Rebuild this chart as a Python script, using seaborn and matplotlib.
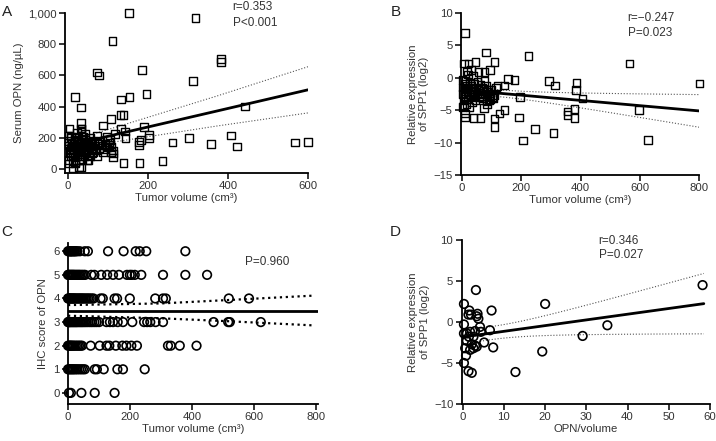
import numpy as np
import pandas as pd
import matplotlib
matplotlib.use('Agg')
import matplotlib.pyplot as plt
import seaborn as sns
from matplotlib.ticker import StrMethodFormatter

# Panel A: tumor volume vs serum OPN
a_vol = [152, 319, 111, 72, 78, 185, 383, 383, 312, 17, 33, 154, 196, 132, 131, 139, 108, 32, 32, 4,
         88, 132, 190, 142, 442, 407, 422, 302, 358, 261, 567, 600, 179, 236, 202, 202, 178, 183, 178, 139,
         112, 112, 112, 27, 32, 104, 96, 72, 97, 105, 117, 144, 109, 107, 72, 88, 63, 51, 18, 12,
         34, 34, 2, 3, 4, 5, 6, 2, 8, 9, 10, 11, 12, 14, 15, 16, 17, 18, 20, 21,
         22, 24, 25, 26, 27, 28, 30, 31, 33, 34, 35, 37, 38, 40, 41, 42, 44, 45, 47, 48,
         50, 52, 54, 55, 57, 58, 60, 62, 65, 67, 70, 75, 78, 80, 85, 90, 93, 98, 102, 7,
         13, 19, 23, 29, 36, 43, 49, 56, 3, 1, 6]
a_opn = [1000, 968, 822, 620, 600, 635, 705, 685, 565, 460, 395, 460, 480, 445, 345, 345, 320, 295, 260, 260,
         280, 260, 270, 240, 400, 215, 145, 200, 160, 170, 170, 175, 40, 50, 220, 200, 175, 185, 155, 40,
         120, 100, 75, 10, 10, 170, 145, 215, 205, 185, 225, 200, 140, 110, 80, 110, 110, 60, 40, 5,
         260, 240, 180, 150, 120, 100, 80, 60, 200, 170, 140, 110, 90, 160, 130, 190, 75, 210, 150, 120,
         95, 175, 140, 200, 110, 60, 160, 130, 185, 95, 150, 120, 210, 170, 80, 140, 190, 110, 155, 130,
         175, 90, 145, 200, 120, 165, 100, 135, 180, 150, 120, 160, 135, 175, 150, 125, 160, 140, 155, 210,
         55, 45, 230, 85, 65, 225, 60, 80, 35, 215, 130]
# fit line and 95% band of panel A
a_fit_x = [0, 138, 372, 600]
a_fit_y = [151, 233, 372, 508]
a_band_hi = [176, 283, 468, 656]
a_band_lo = [126, 183, 276, 360]

# Panel B: tumor volume vs SPP1 expression
b_vol = [9, 224, 80, 565, 802, 294, 314, 387, 384, 406, 196, 177, 155, 143, 143, 126, 110, 110, 192, 247,
         205, 309, 598, 628, 356, 356, 380, 380, 110, 45, 95, 76, 56, 6, 22, 9, 9, 39, 62, 75,
         90, 101, 30, 16, 120, 2, 3, 4, 5, 6, 2, 8, 9, 10, 12, 13, 14, 15, 16, 18,
         19, 20, 22, 24, 25, 27, 28, 30, 32, 33, 35, 37, 38, 40, 42, 44, 46, 48, 50, 52,
         55, 57, 60, 62, 65, 68, 70, 73, 76, 78, 80, 83, 85, 88, 90, 95, 100, 105, 110, 115,
         95, 85]
b_spp1 = [6.9, 3.4, 3.9, 2.2, -0.9, -0.5, -1.2, -0.8, -1.9, -3.2, -3.0, -0.3, -0.2, -1.2, -5.0, -5.5, -6.3, -7.6, -6.1, -7.9,
          -9.7, -8.5, -5.0, -9.6, -5.2, -5.7, -4.8, -6.2, 2.4, 2.4, 1.2, 0.9, 0.9, 2.2, 2.2, -5.5, -6.1, -6.2, -6.2, -4.7,
          -3.5, -3.0, 1.2, 1.0, -1.3, -0.3, -1.5, -2.5, -3.5, -4.3, -4.5, -1.0, -2.0, -3.0, -0.5, -1.8, -2.8, -4.0, -1.2, -2.2,
          -3.3, 0.5, -1.5, -2.6, -4.5, -0.8, -2.0, -3.0, -1.3, -3.8, -2.4, 0.3, -1.7, -2.9, -0.9, -2.1, -3.4, -1.5, -2.6, -0.6,
          -1.9, -3.0, -2.3, -1.1, -2.8, -1.6, -3.2, -2.0, -0.5, -2.6, -1.3, -3.6, -2.2, -1.8, -2.9, -2.4, -1.9, -3.1, -2.7, -1.5,
          -3.3, -4.0]

# Panel C: tumor volume grouped by IHC score of OPN
c_vol_6 = [0, 3, 6, 8, 10, 12, 14, 18, 20, 22, 26, 30, 38, 54, 64, 129, 179, 218, 231, 252, 378]
c_vol_5 = [0, 2, 5, 8, 11, 14, 17, 20, 24, 28, 32, 36, 40, 45, 50, 55, 75, 85, 107, 126,
           145, 164, 190, 199, 205, 215, 236, 306, 378, 448]
c_vol_4 = [0, 2, 4, 7, 10, 13, 16, 19, 22, 26, 30, 34, 38, 42, 46, 50, 55, 60, 65, 70,
           76, 82, 105, 112, 150, 158, 199, 281, 306, 315, 518, 583]
c_vol_3 = [0, 2, 4, 6, 9, 12, 15, 18, 21, 24, 27, 30, 34, 38, 42, 46, 50, 55, 60, 66,
           72, 78, 85, 92, 100, 124, 135, 145, 160, 177, 207, 245, 255, 265, 282, 306, 469, 516, 521, 621]
c_vol_2 = [0, 3, 6, 9, 12, 16, 20, 25, 30, 35, 40, 45, 73, 102, 124, 133, 154, 175, 188, 204,
           222, 322, 331, 360, 414]
c_vol_1 = [0, 4, 8, 12, 16, 20, 25, 30, 36, 42, 48, 54, 86, 93, 115, 159, 177, 247]
c_vol_0 = [3, 9, 43, 86, 150]
# fit line and 95% band of panel C
c_fit_x = [0, 810]
c_fit_y = [3.49, 3.49]
c_band_x = [0, 300, 510, 790]
c_band_hi = [3.72, 3.79, 3.93, 4.12]
c_band_lo = [3.27, 3.16, 3.04, 2.86]

# Panel D: OPN/volume vs SPP1 expression
d_ratio = [58.2, 20.0, 35.1, 29.1, 19.3, 12.8, 3.2, 0.3, 7.0, 1.6, 2.0, 1.4, 3.6, 3.4, 3.8, 0.3, 6.6, 7.4, 5.2, 4.2,
           4.4, 3.0, 1.8, 1.0, 0.3, 1.5, 2.6, 3.4, 1.0, 2.2, 3.0, 0.6, 0.8, 0.3, 1.4, 2.2, 1.8, 2.6]
d_spp1 = [4.5, 2.2, -0.4, -1.7, -3.6, -6.1, 3.9, 2.2, 1.4, 1.4, 0.9, 0.9, 1.0, 0.7, 0.4, -0.3, -1.0, -3.1, -2.5, -0.6,
          -1.2, -1.1, -1.2, -1.4, -1.4, -1.8, -1.8, -3.0, -2.3, -2.7, -2.9, -3.2, -4.1, -5.0, -6.0, -6.2, -3.4, -3.2]


def fit_band(x, y, xs, t=1.98):
    x = np.asarray(x, float)
    y = np.asarray(y, float)
    slope, icpt = np.polyfit(x, y, 1)
    yhat = icpt + slope * xs
    resid = y - (icpt + slope * x)
    s = np.sqrt(np.sum(resid ** 2) / (len(x) - 2))
    se = s * np.sqrt(1 / len(x) + (xs - x.mean()) ** 2 / np.sum((x - x.mean()) ** 2))
    return yhat, yhat - t * se, yhat + t * se


def draw_band(ax, lx, ly, bx, hi, lo, band_lw=0.8, band_color='#555555'):
    sns.lineplot(x=lx, y=ly, ax=ax, color='black', lw=2)
    sns.lineplot(x=bx, y=lo, ax=ax, color=band_color, lw=band_lw, ls=':')
    sns.lineplot(x=bx, y=hi, ax=ax, color=band_color, lw=band_lw, ls=':')


def draw_fit(ax, x, y, x_end):
    xs = np.linspace(0, x_end, 100)
    yhat, lo, hi = fit_band(x, y, xs)
    draw_band(ax, xs, yhat, xs, hi, lo)


def style_ax(ax):
    sns.despine(ax=ax)
    for sp in ['left', 'bottom']:
        ax.spines[sp].set_linewidth(1.3)
        ax.spines[sp].set_color('black')
    ax.tick_params(direction='out', length=4, width=1.1, color='black',
                   labelsize=8.2, labelcolor='#333333', pad=2)


sns.set_style('ticks')
plt.rcParams['font.family'] = ['Liberation Sans', 'DejaVu Sans']
plt.rcParams['axes.labelcolor'] = '#333333'
plt.rcParams['text.color'] = '#333333'

fig = plt.figure(figsize=(7.16, 4.41), dpi=100)

# ---- A ----
axA = fig.add_axes([0.0908, 0.6077, 0.3394, 0.3628])
sns.scatterplot(x=a_vol, y=a_opn, ax=axA, marker='s', s=30, facecolors='none',
                edgecolor='black', linewidth=1, clip_on=False, zorder=3)
draw_band(axA, a_fit_x, a_fit_y, a_fit_x, a_band_hi, a_band_lo)
axA.set_xlim(-7.5, 600)
axA.set_ylim(-25, 1000)
axA.set_xticks([0, 200, 400, 600])
axA.set_yticks([0, 200, 400, 600, 800, 1000])
axA.yaxis.set_major_formatter(StrMethodFormatter('{x:,.0f}'))
axA.set_xlabel('Tumor volume (cm³)', fontsize=8.2, labelpad=1)
axA.set_ylabel('Serum OPN (ng/µL)', fontsize=8.2, labelpad=3)
axA.text(0.69, 1.04, 'r=0.353', transform=axA.transAxes, fontsize=8.5, va='center')
axA.text(0.69, 0.94, 'P<0.001', transform=axA.transAxes, fontsize=8.5, va='center')
style_ax(axA)

# ---- B ----
axB = fig.add_axes([0.6439, 0.6032, 0.3324, 0.3673])
sns.scatterplot(x=b_vol, y=b_spp1, ax=axB, marker='s', s=30, facecolors='none',
                edgecolor='black', linewidth=1, clip_on=False, zorder=3)
draw_fit(axB, b_vol, b_spp1, 800)
axB.set_xlim(-3.4, 800)
axB.set_ylim(-15, 10)
axB.set_xticks([0, 200, 400, 600, 800])
axB.set_yticks([-15, -10, -5, 0, 5, 10])
axB.set_xlabel('Tumor volume (cm³)', fontsize=8.2, labelpad=1)
axB.set_ylabel('Relative expression\nof SPP1 (log2)', fontsize=8.2, labelpad=3)
axB.text(0.70, 0.97, 'r=\u22120.247', transform=axB.transAxes, fontsize=8.5, va='center')
axB.text(0.70, 0.877, 'P=0.023', transform=axB.transAxes, fontsize=8.5, va='center')
style_ax(axB)

# ---- C ----
c_rows = [(6, c_vol_6), (5, c_vol_5), (4, c_vol_4), (3, c_vol_3), (2, c_vol_2), (1, c_vol_1), (0, c_vol_0)]
c_df = pd.DataFrame([(v, sc) for sc, vols in c_rows for v in vols], columns=['vol', 'score'])
axC = fig.add_axes([0.095, 0.0839, 0.349, 0.3651])
sns.scatterplot(data=c_df, x='vol', y='score', ax=axC, marker='o', s=38, facecolors='none',
                edgecolor='black', linewidth=1.2, clip_on=False, zorder=3)
draw_band(axC, c_fit_x, c_fit_y, c_band_x, c_band_hi, c_band_lo, band_lw=1.6, band_color='black')
axC.set_xlim(0, 805)
axC.set_ylim(-0.47, 6.35)
axC.set_xticks([0, 200, 400, 600, 800])
axC.set_yticks(range(7))
axC.set_xlabel('Tumor volume (cm³)', fontsize=8.2, labelpad=1)
axC.set_ylabel('IHC score of OPN', fontsize=8.2, labelpad=4)
axC.text(0.708, 0.882, 'P=0.960', transform=axC.transAxes, fontsize=8.5, va='center')
style_ax(axC)

# ---- D ----
axD = fig.add_axes([0.6448, 0.0839, 0.3468, 0.3719])
sns.scatterplot(x=d_ratio, y=d_spp1, ax=axD, marker='o', s=38, facecolors='none',
                edgecolor='black', linewidth=1.2, clip_on=False, zorder=3)
draw_fit(axD, d_ratio, d_spp1, 58.5)
axD.set_xlim(-0.25, 60)
axD.set_ylim(-10, 10)
axD.set_xticks([0, 10, 20, 30, 40, 50, 60])
axD.set_yticks([-10, -5, 0, 5, 10])
axD.set_xlabel('OPN/volume', fontsize=8.2, labelpad=1)
axD.set_ylabel('Relative expression\nof SPP1 (log2)', fontsize=8.2, labelpad=3)
axD.text(0.552, 0.994, 'r=0.346', transform=axD.transAxes, fontsize=8.5, va='center')
axD.text(0.552, 0.909, 'P=0.027', transform=axD.transAxes, fontsize=8.5, va='center')
style_ax(axD)

for lab, (px, py) in zip('ABCD', [(7, 12), (396, 12), (7, 232), (395, 232)]):
    fig.text(px / 716, 1 - py / 441, lab, fontsize=11, ha='center', va='center', color='#222222')

fig.savefig('out.png', dpi=100)
